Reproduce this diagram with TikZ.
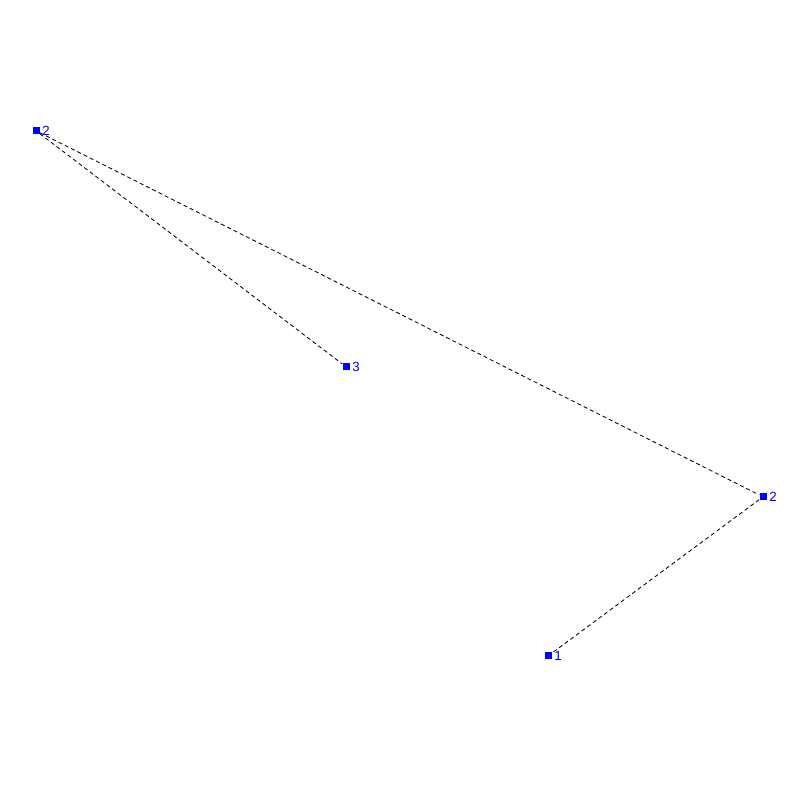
\documentclass[tikz,border=0pt]{standalone}
\usepackage{fontspec}
\setsansfont{Liberation Sans}
\usetikzlibrary{positioning}

\begin{document}
\begin{tikzpicture}[
						vertex/.style={rectangle, draw=none, fill=blue, inner sep=0pt, minimum size=1.75mm},
						vlabel/.style={text=blue, font=\sffamily\fontsize{9.5}{10}\selectfont, inner sep=0pt, xshift=0.6mm},
						link/.style={draw=black, line width=0.6pt, dash pattern=on 1mm off 0.75mm}
					]
					\useasboundingbox (0,0) rectangle (20,20);
					\node[vertex, label={[vlabel]right:2}] (top) at (0.9,16.73) {};
					\node[vertex, label={[vlabel]right:3}] (mid) at (8.65,10.83) {};
					\node[vertex, label={[vlabel]right:2}] (right) at (19.075,7.58) {};
					\node[vertex, label={[vlabel]right:1}] (bottom) at (13.7,3.6) {};
					\draw[link] (top) -- (mid);
					\draw[link] (top) -- (right);
					\draw[link] (right) -- (bottom);
					\end{tikzpicture}
\end{document}
